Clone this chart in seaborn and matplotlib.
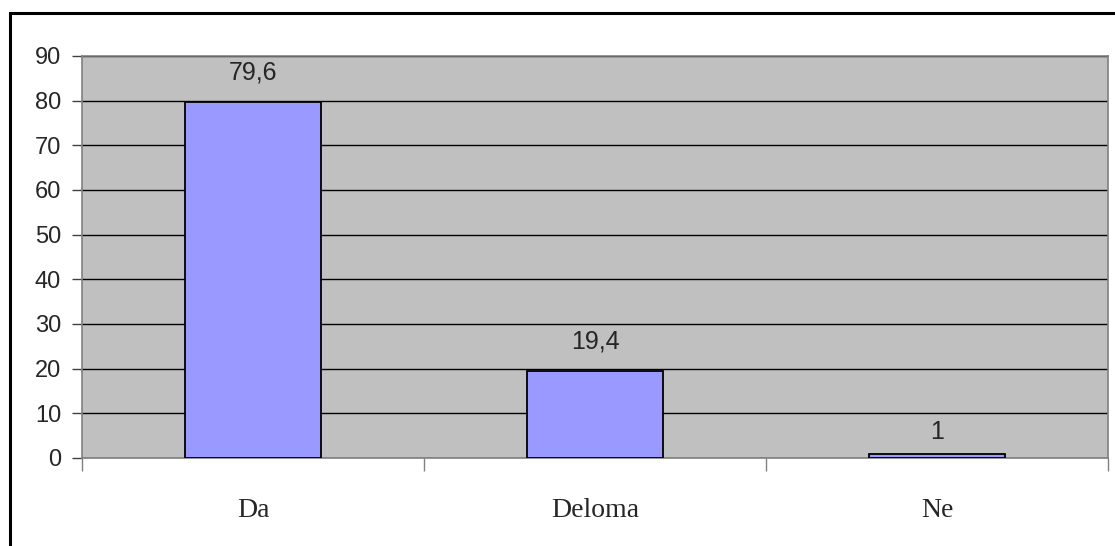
import matplotlib
matplotlib.use("Agg")
import matplotlib.pyplot as plt
import seaborn as sns
import pandas as pd
from matplotlib.patches import Rectangle

categories = ["Da", "Deloma", "Ne"]
values = [79.6, 19.4, 1]
value_labels = ["79,6", "19,4", "1"]
y_ticks = [0, 10, 20, 30, 40, 50, 60, 70, 80, 90]

df = pd.DataFrame({"odgovor": categories, "procent": values})

sns.set_style("white")
plt.rcParams["font.family"] = ["Liberation Sans", "DejaVu Sans"]

fig = plt.figure(figsize=(11.15, 5.46), dpi=100)
ax = fig.add_axes([82 / 1115, 1 - 458 / 546, (1108 - 82) / 1115, (458 - 56) / 546])

# outer chart frame
fig.patches.append(Rectangle((10 / 1115, -0.05), 1.1, 1 - 13 / 546 + 0.05,
                             transform=fig.transFigure, fill=False,
                             edgecolor="black", linewidth=2.2, zorder=0))

ax.set_facecolor("#C0C0C0")
sns.barplot(data=df, x="odgovor", y="procent", color="#9999FF", width=0.4,
            edgecolor="black", linewidth=1.3, saturation=1, ax=ax, zorder=3)

ax.set_ylim(0, 90)
ax.set_xlim(-0.5, 2.5)
ax.set_yticks(y_ticks)
ax.yaxis.grid(True, color="black", linewidth=1.0, zorder=1)
ax.set_axisbelow(True)
ax.tick_params(axis="y", left=True, length=7, width=1, color="#404040",
               labelsize=17, pad=8)

# category boundary ticks + centred labels
ax.set_xticks([0, 1, 2])
ax.set_xticks([-0.5, 0.5, 1.5, 2.5], minor=True)
ax.tick_params(axis="x", which="minor", bottom=True, length=9, width=1, color="#808080")
ax.tick_params(axis="x", which="major", bottom=False, length=0, pad=29)
ax.set_xticklabels(categories, family="Liberation Serif", fontsize=20)

for s in ax.spines.values():
    s.set_color("#808080")
    s.set_linewidth(1.2)

# value labels (the tiny bar gets its label closer)
for bar, lab in zip(ax.containers[0], value_labels):
    h = bar.get_height()
    off = 13 if h > 5 else 7
    ax.annotate(lab, (bar.get_x() + bar.get_width() / 2, h),
                xytext=(0, off), textcoords="offset points",
                ha="center", va="bottom", fontsize=18)

ax.set_xlabel("")
ax.set_ylabel("")

fig.savefig("out.png", dpi=100)
